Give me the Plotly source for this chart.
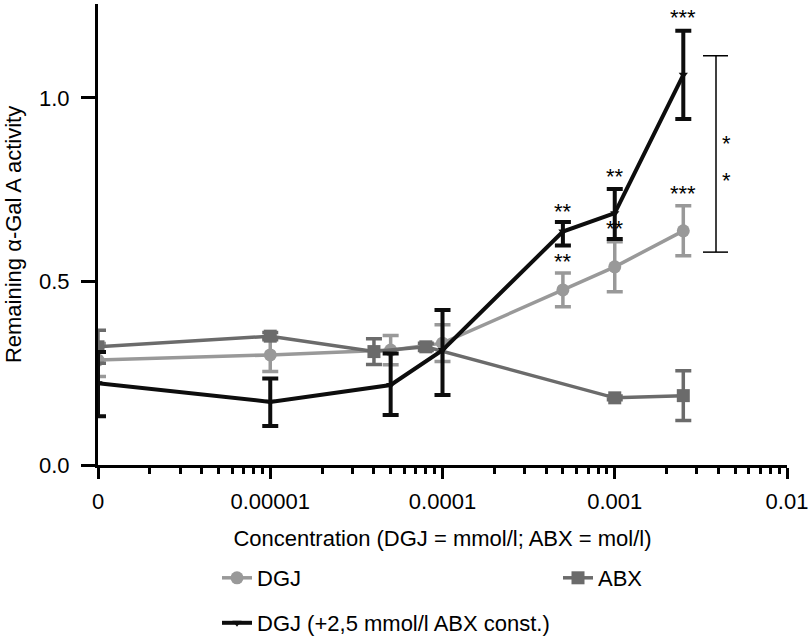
import plotly.graph_objects as go
import numpy as np

# ---- data ----
dgj_x = [1e-6, 1e-5, 5e-5, 1e-4, 5e-4, 1e-3, 2.5e-3]
dgj_y = [0.286, 0.300, 0.313, 0.332, 0.477, 0.540, 0.638]
dgj_err = [0.045, 0.045, 0.040, 0.050, 0.046, 0.068, 0.068]

abx_x = [1e-6, 1e-5, 4e-5, 8e-5, 1e-3, 2.5e-3]
abx_y = [0.322, 0.351, 0.309, 0.322, 0.183, 0.189]
abx_err = [0.045, 0.010, 0.035, 0.010, 0.005, 0.068]

mix_x = [1e-6, 1e-5, 5e-5, 1e-4, 5e-4, 1e-3, 2.5e-3]
mix_y = [0.223, 0.172, 0.218, 0.313, 0.636, 0.686, 1.063]
mix_err_plus = [0.085, 0.064, 0.086, 0.109, 0.026, 0.066, 0.120]
mix_err_minus = [0.090, 0.066, 0.082, 0.122, 0.038, 0.070, 0.120]

x_tickvals = [1e-6, 1e-5, 1e-4, 1e-3, 1e-2]
x_ticktext = ["0", "0.00001", "0.0001", "0.001", "0.01"]
y_tickvals = [0.0, 0.5, 1.0]
y_ticktext = ["0.0", "0.5", "1.0"]

# significance labels: (x, y, text)
sig_mix = [(5e-4, 0.690, "**"), (1e-3, 0.785, "**"), (2.5e-3, 1.220, "***")]
sig_dgj = [(5e-4, 0.555, "**"), (1e-3, 0.645, "**"), (2.5e-3, 0.740, "***")]

DGJ_C = "#999999"
ABX_C = "#6b6b6b"
MIX_C = "#0d0d0d"
FONT = "Liberation Sans, Arial, Helvetica, sans-serif"
FS = 22
W, H = 812, 637

fig = go.Figure()
fig.add_trace(go.Scatter(
    x=dgj_x, y=dgj_y, name="DGJ", mode="lines+markers",
    line=dict(color=DGJ_C, width=3.5),
    marker=dict(symbol="circle", size=13, color=DGJ_C),
    error_y=dict(type="data", array=dgj_err, color=DGJ_C, thickness=3.5, width=8),
    legend="legend", showlegend=True,
))
fig.add_trace(go.Scatter(
    x=abx_x, y=abx_y, name="ABX", mode="lines+markers",
    line=dict(color=ABX_C, width=3.5),
    marker=dict(symbol="square", size=13, color=ABX_C),
    error_y=dict(type="data", array=abx_err, color=ABX_C, thickness=3.5, width=8),
    legend="legend2", showlegend=True,
))
fig.add_trace(go.Scatter(
    x=mix_x, y=mix_y, name="DGJ (+2,5 mmol/l ABX const.)", mode="lines+markers",
    line=dict(color=MIX_C, width=4),
    marker=dict(symbol="triangle-down", size=8, color=MIX_C),
    error_y=dict(type="data", array=mix_err_plus, arrayminus=mix_err_minus,
                 color=MIX_C, thickness=4, width=8),
    legend="legend3", showlegend=True,
))

for x, y, t in sig_mix + sig_dgj:
    fig.add_annotation(x=np.log10(x), y=y, text=t, showarrow=False,
                       font=dict(size=FS, color="black", family=FONT),
                       xanchor="center", yanchor="middle")

# bracket between curves at highest concentration
PW = 689.0
bx = (716 - 98) / PW
bx0 = (703 - 98) / PW
bx1 = (728 - 98) / PW
for sh in [dict(x0=bx, x1=bx, y0=0.58, y1=1.115),
           dict(x0=bx0, x1=bx1, y0=1.115, y1=1.115),
           dict(x0=bx0, x1=bx1, y0=0.58, y1=0.58)]:
    fig.add_shape(type="line", xref="paper", yref="y", line=dict(color="black", width=1.5), **sh)
for yy in [0.875, 0.775]:
    fig.add_annotation(x=(733 - 98) / PW, xref="paper", y=yy, text="*", showarrow=False,
                       font=dict(size=FS, color="black", family=FONT))

fig.update_xaxes(
    type="log", range=[-6, -2],
    tickvals=x_tickvals, ticktext=x_ticktext,
    showline=True, linewidth=3, linecolor="black",
    ticks="outside", ticklen=11, tickwidth=3, tickcolor="black",
    minor=dict(ticks="outside", ticklen=6, tickwidth=2.5, tickcolor="black", dtick="D1"),
    showgrid=False, zeroline=False, ticklabeloverflow="allow", ticklabelstandoff=4,
    automargin=False,
    tickfont=dict(size=FS, family=FONT, color="black"),
    title=dict(text="Concentration (DGJ = mmol/l; ABX = mol/l)", standoff=18,
               font=dict(size=FS, family=FONT, color="black")),
)
fig.update_yaxes(
    range=[0, 1.256],
    tickvals=y_tickvals, ticktext=y_ticktext,
    showline=True, linewidth=3, linecolor="black",
    ticks="outside", ticklen=14, tickwidth=3, tickcolor="black",
    showgrid=False, zeroline=False, ticklabelstandoff=7,
    automargin=False,
    tickfont=dict(size=FS, family=FONT, color="black"),
    title=dict(text="Remaining α-Gal A activity", standoff=12,
               font=dict(size=FS, family=FONT, color="black")),
)

leg_common = dict(orientation="h", xanchor="left", yanchor="middle",
                  xref="container", yref="container",
                  font=dict(size=FS, family=FONT, color="black"), bgcolor="rgba(0,0,0,0)")
fig.update_layout(
    width=W, height=H,
    margin=dict(l=98, r=25, t=4, b=172, autoexpand=False),
    plot_bgcolor="white", paper_bgcolor="white",
    showlegend=True,
    font=dict(family=FONT, size=FS, color="black"),
    legend=dict(x=217 / W, y=1 - 578 / H, **leg_common),
    legend2=dict(x=558 / W, y=1 - 578 / H, **leg_common),
    legend3=dict(x=217 / W, y=1 - 623 / H, **leg_common),
)

fig.write_html("out.html", config={"displayModeBar": False},
               post_script="document.body.style.margin='0';document.body.style.overflow='hidden';")
